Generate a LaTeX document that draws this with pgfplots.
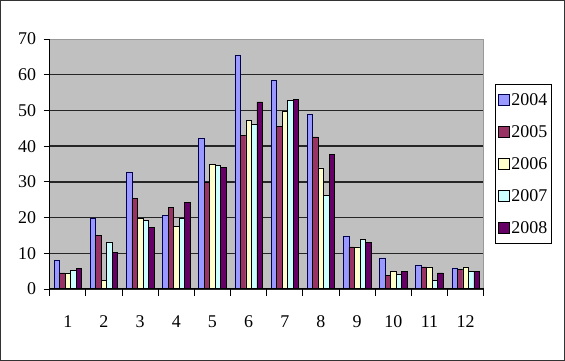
\documentclass[border=0pt]{standalone}
\usepackage{fontspec}
\setmainfont{Liberation Serif}
\usepackage{pgfplots}
\pgfplotsset{compat=1.18}
\definecolor{cA}{HTML}{9999FF}
\definecolor{cB}{HTML}{993366}
\definecolor{cC}{HTML}{FFFFCC}
\definecolor{cD}{HTML}{CCFFFF}
\definecolor{cE}{HTML}{660066}
\definecolor{plotgray}{HTML}{C0C0C0}
\begin{document}
\begin{tikzpicture}
\useasboundingbox (0,0) rectangle (565bp,361bp);
\fill[white] (0,0) rectangle (565bp,361bp);
\draw[black!80, line width=1.2bp] (0.6bp,0.6bp) rectangle (564.4bp,360.4bp);
\begin{axis}[
  name=ax,
  at={(49.7bp,72bp)}, anchor=south west,
  scale only axis, width=434bp, height=250bp,
  xmin=0.5, xmax=12.5, ymin=0, ymax=70,
  ybar=0pt, bar width=5.5bp,
  axis background/.style={fill=plotgray},
  axis line style={black!40, line width=1bp},
  xtick pos=bottom, ytick pos=left,
  xtick={1,...,12},
  x tick style={draw=none},
  xticklabel style={yshift=-17bp},
  ytick={0,10,...,60},
  extra y ticks={70},
  extra y tick style={grid=none},
  ymajorgrids,
  major grid style={black!85, line width=1.3bp},
  tick align=outside,
  major tick length=6bp,
  y tick style={black, line width=0.8bp},
  /pgf/number format/assume math mode=true,
  ticklabel style={font=\fontsize{18}{21}\selectfont},
  yticklabel style={xshift=-4bp},
  legend style={at={(1.027,0.5)}, anchor=west, draw=black, line width=0.8bp,
    fill=white, font=\fontsize{18}{21}\selectfont, row sep=14.5bp,
    inner xsep=2bp, inner ysep=7bp},
  legend cell align=left,
  legend image code/.code={\draw[#1, line width=0.6bp] (0bp,-5.5bp) rectangle (11bp,5.5bp);},
  every axis plot/.append style={draw=black, line width=0.6bp},
]
\addplot[fill=cA, draw=black!70!blue] coordinates {(1,7.9) (2,19.8) (3,32.7) (4,20.6) (5,42.1) (6,65.4) (7,58.5) (8,49.0) (9,14.8) (10,8.7) (11,6.5) (12,5.8)};
\addplot[fill=cB] coordinates {(1,4.5) (2,14.9) (3,25.4) (4,22.9) (5,29.9) (6,43.0) (7,45.5) (8,42.6) (9,11.8) (10,3.7) (11,6.2) (12,5.4)};
\addplot[fill=cC] coordinates {(1,4.5) (2,2.4) (3,19.8) (4,17.6) (5,34.8) (6,47.1) (7,49.8) (8,33.9) (9,11.8) (10,5.0) (11,6.2) (12,6.2)};
\addplot[fill=cD] coordinates {(1,5.2) (2,13.2) (3,19.3) (4,19.8) (5,34.5) (6,46.2) (7,52.8) (8,26.2) (9,13.8) (10,4.0) (11,2.4) (12,4.9)};
\addplot[fill=cE] coordinates {(1,5.8) (2,10.3) (3,17.2) (4,24.2) (5,34.1) (6,52.4) (7,53.1) (8,37.7) (9,13.1) (10,5.0) (11,4.5) (12,4.9)};
\legend{2004,2005,2006,2007,2008}
\end{axis}
\draw[black, line width=1bp] (ax.north west) -- (ax.south west) -- (ax.south east);
\foreach \i in {0,...,12} {
  \draw[black, line width=1bp] ([xshift=\i*36.1667bp]ax.south west) -- ++(0,-7bp);
}
\end{tikzpicture}
\end{document}
